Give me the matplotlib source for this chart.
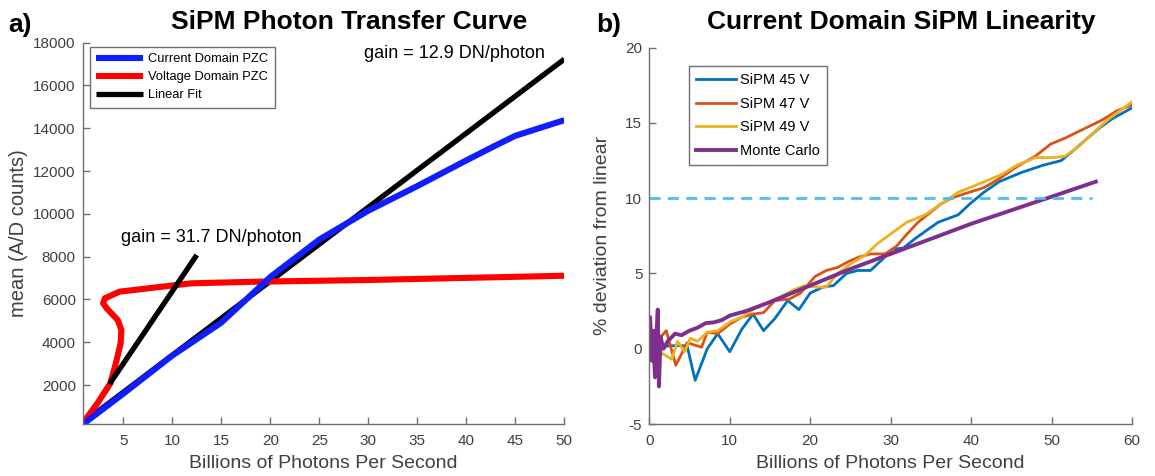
import numpy as np
import matplotlib
matplotlib.use('Agg')
import matplotlib.pyplot as plt

plt.rcParams['font.family'] = ['Liberation Sans', 'DejaVu Sans']
plt.rcParams['axes.unicode_minus'] = False

# ---- panel a) photon transfer curve ----
current_x = [0.97, 5, 10, 15, 20, 25, 30, 35, 40, 43, 45, 50]
current_y = [200, 1600, 3380, 4920, 7050, 8800, 10150, 11300, 12500, 13200, 13650, 14380]

voltage_x = [0.86, 2.36, 3.68, 4.24, 4.73, 4.81, 4.43, 3.31, 2.94, 3.12, 4.62, 11.9, 18.7, 30.0, 50.0]
voltage_y = [213, 1148, 2082, 3017, 3952, 4575, 5042, 5587, 5821, 6054, 6366, 6755, 6833, 6911, 7110]

fit_hi_x = [0.9, 50]
fit_hi_y = [250, 17230]
fit_lo_x = [3.6, 12.5]
fit_lo_y = [2050, 8080]

# ---- panel b) linearity ----
s45_x = [1.0, 2.6, 4.7, 5.7, 7.2, 8.5, 10.0, 11.5, 12.9, 14.2, 15.6, 17.2, 18.6, 20.0, 21.6, 22.9,
         24.5, 25.9, 27.5, 28.9, 30.2, 31.6, 33.0, 34.3, 35.9, 38.4, 39.8, 41.6, 43.5, 46.2, 49.0,
         51.2, 53.0, 55.8, 57.6, 60.0]
s45_y = [0.1, 0.2, 0.2, -2.1, 0.0, 1.0, -0.2, 1.3, 2.3, 1.2, 2.0, 3.2, 2.6, 3.7, 4.1, 4.2,
         5.0, 5.2, 5.2, 5.9, 6.6, 6.7, 7.3, 7.8, 8.4, 8.9, 9.6, 10.4, 11.1, 11.7, 12.2,
         12.5, 13.3, 14.6, 15.3, 16.0]

s47_x = [0.5, 2.1, 3.3, 4.7, 6.5, 7.2, 8.5, 9.9, 11.5, 12.9, 14.2, 15.6, 17.4, 18.8, 20.6, 22.0,
         23.4, 24.8, 26.1, 27.5, 29.3, 30.7, 32.0, 33.4, 34.8, 36.2, 37.5, 39.8, 41.6, 43.5, 45.7,
         48.0, 49.9, 51.7, 54.0, 56.3, 58.1, 60.0]
s47_y = [0.2, 1.2, -1.1, 0.4, 0.1, 1.1, 1.0, 1.6, 2.1, 2.3, 2.4, 3.2, 3.3, 3.7, 4.8, 5.2,
         5.4, 5.8, 6.1, 6.3, 6.3, 6.8, 7.6, 8.4, 9.0, 9.6, 10.0, 10.4, 10.7, 11.3, 12.1,
         12.8, 13.6, 14.0, 14.6, 15.2, 15.8, 16.2]

s49_x = [0.5, 1.9, 2.8, 3.5, 4.4, 5.1, 6.0, 7.2, 8.5, 10.1, 11.5, 12.9, 14.5, 16.1, 17.9, 19.3,
         20.6, 22.0, 23.4, 25.2, 26.8, 28.4, 30.2, 32.0, 34.3, 36.2, 38.4, 40.3, 42.1, 43.9, 45.7,
         48.0, 50.3, 51.7, 53.5, 55.3, 57.2, 60.0]
s49_y = [0.0, -0.4, -0.7, 0.5, -0.2, 0.7, 0.5, 1.1, 1.2, 1.8, 2.1, 2.6, 3.0, 3.4, 3.9, 4.2,
         4.1, 4.1, 5.0, 5.7, 6.2, 7.0, 7.7, 8.4, 8.9, 9.6, 10.4, 10.8, 11.2, 11.6, 12.2,
         12.7, 12.7, 12.8, 13.5, 14.4, 15.3, 16.4]

mc_x = [0.0, 0.1, 0.3, 0.5, 0.7, 0.9, 1.05, 1.2, 1.4, 1.75, 2.3, 3.2, 4.0, 5.0,
        6.0, 7.0, 8.0, 9.0, 10.0, 12.0, 15.0, 20.0, 25.0, 30.0, 35.0, 40.0, 45.0, 50.0, 55.5]
mc_y = [0.0, 2.1, -0.8, 1.2, -1.9, 1.0, 2.6, -2.5, 0.8, 0.0, 0.5, 1.0, 0.9, 1.2,
        1.4, 1.7, 1.75, 1.9, 2.2, 2.5, 3.1, 4.2, 5.3, 6.3, 7.3, 8.3, 9.2, 10.1, 11.1]

W, H = 1155, 476
fig = plt.figure(figsize=(W / 100, H / 100), dpi=100)

tick_col = '#404040'
spine_col = '#707070'


def style(ax):
    for s in ['top', 'right']:
        ax.spines[s].set_visible(False)
    for s in ['left', 'bottom']:
        ax.spines[s].set_color(spine_col)
        ax.spines[s].set_linewidth(1.0)
    ax.tick_params(direction='in', length=5, width=1, color=spine_col,
                   labelcolor=tick_col, labelsize=11)
    ax.tick_params(axis='x', pad=7)
    ax.tick_params(axis='y', pad=5)


# panel a
ax1 = fig.add_axes([82.7 / W, 1 - 424 / H, (564.3 - 82.7) / W, (424 - 42.7) / H])
ax1.plot(current_x, current_y, color='#0f1dff', lw=4.4, label='Current Domain PZC',
         solid_capstyle='butt', zorder=2.5)
ax1.plot(voltage_x, voltage_y, color='#ff0000', lw=4.4, label='Voltage Domain PZC',
         solid_capstyle='butt', zorder=2.2)
ax1.plot(fit_hi_x, fit_hi_y, color='black', lw=3.8, label='Linear Fit', solid_capstyle='butt', zorder=2.0)
ax1.plot(fit_lo_x, fit_lo_y, color='black', lw=3.8, solid_capstyle='butt', zorder=2.3)
ax1.set_xlim(0.86, 50)
ax1.set_ylim(182, 18000)
ax1.set_xticks(range(5, 51, 5))
ax1.set_yticks(range(2000, 18001, 2000))
style(ax1)
ax1.set_xlabel('Billions of Photons Per Second', fontsize=14, color=tick_col, labelpad=5)
ax1.set_ylabel('mean (A/D counts)', fontsize=14.5, color=tick_col, labelpad=4)
ax1.text(4.73, 8874, 'gain = 31.7 DN/photon', fontsize=13, va='center', ha='left')
ax1.text(29.56, 17518, 'gain = 12.9 DN/photon', fontsize=13, va='center', ha='left')
leg1 = ax1.legend(loc='upper left', bbox_to_anchor=(90 / W, 1 - 47 / H), bbox_transform=fig.transFigure,
                  borderaxespad=0, fancybox=False, fontsize=9.3, handlelength=3.6, handletextpad=0.4,
                  labelspacing=0.45, borderpad=0.5, framealpha=1)
leg1.get_frame().set_edgecolor(spine_col)
leg1.get_frame().set_linewidth(1.0)
fig.text(349 / W, 1 - 22 / H, 'SiPM Photon Transfer Curve', fontsize=19, fontweight='bold',
         ha='center', va='center')
fig.text(8 / W, 1 - 25 / H, 'a)', fontsize=19, fontweight='bold', ha='left', va='center')

# panel b
ax2 = fig.add_axes([649.3 / W, 1 - 424 / H, (1132 - 649.3) / W, (424 - 47.7) / H])
ax2.plot(s45_x, s45_y, color='#0072BD', lw=2.0, label='SiPM 45 V')
ax2.plot(s47_x, s47_y, color='#D95319', lw=2.0, label='SiPM 47 V')
ax2.plot(s49_x, s49_y, color='#EDB120', lw=2.0, label='SiPM 49 V')
ax2.plot(mc_x, mc_y, color='#7E2F8E', lw=2.8, label='Monte Carlo')
ax2.plot([0, 55], [10, 10], color='#4DBEEE', lw=2.0, linestyle=(0, (4, 2.6)))
ax2.set_xlim(0, 60)
ax2.set_ylim(-5, 20)
ax2.set_xticks(range(0, 61, 10))
ax2.set_yticks(range(-5, 21, 5))
style(ax2)
ax2.set_xlabel('Billions of Photons Per Second', fontsize=14, color=tick_col, labelpad=5)
ax2.set_ylabel('% deviation from linear', fontsize=14, color=tick_col, labelpad=10)
leg2 = ax2.legend(loc='upper left', bbox_to_anchor=(689 / W, 1 - 66 / H), bbox_transform=fig.transFigure,
                  borderaxespad=0, fancybox=False, fontsize=10.5, handlelength=2.7, handletextpad=0.3,
                  labelspacing=0.65, borderpad=0.5, framealpha=1)
leg2.get_frame().set_edgecolor(spine_col)
leg2.get_frame().set_linewidth(1.0)
fig.text(901 / W, 1 - 22 / H, 'Current Domain SiPM Linearity', fontsize=19, fontweight='bold',
         ha='center', va='center')
fig.text(596 / W, 1 - 25 / H, 'b)', fontsize=19, fontweight='bold', ha='left', va='center')

fig.savefig('out.png', dpi=100)
